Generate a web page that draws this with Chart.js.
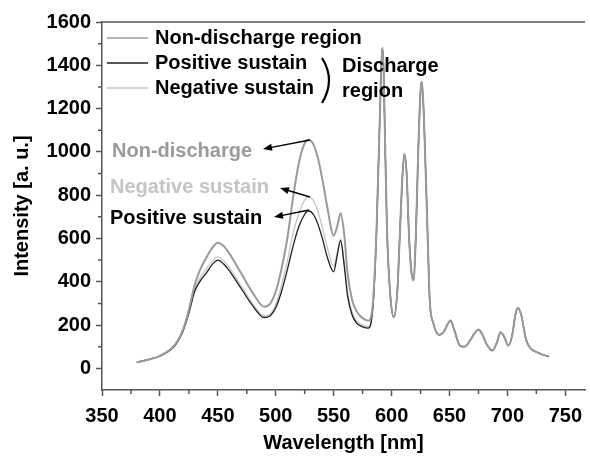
<!DOCTYPE html>
<html>
<head>
<meta charset="utf-8">
<script src="https://cdn.jsdelivr.net/npm/chart.js@4.4.0/dist/chart.umd.min.js"></script>
<style>
  html, body { margin: 0; padding: 0; background: #fff; }
  #wrap { width: 590px; height: 460px; }
</style>
</head>
<body>
<div id="wrap"><canvas id="spectrumChart"></canvas></div>
<script>
const wavelengths = [380, 390, 400, 410, 415, 420, 425, 430, 435, 440, 445, 450, 455, 460, 470, 480, 490, 495,
    500, 505, 510, 515, 520, 525, 528, 532, 536, 540, 545, 550, 553, 556, 559, 562, 566, 570, 575, 580,
    584, 587, 589, 590, 591, 592, 593, 594, 596, 599, 602, 605, 607, 609, 611, 613, 615, 617, 619, 621,
    623, 625, 626, 628, 631, 633, 636, 641, 645, 648, 651, 654, 659, 663, 668, 672, 675, 678, 682, 687,
    691, 694, 697, 701, 704, 707, 709, 712, 716, 720, 726, 731, 736];

const nonDischarge = [28, 40, 58, 92, 125, 180, 270, 385, 460, 510, 555, 580, 565, 530, 440, 350, 285, 298,
    355, 460, 600, 790, 950, 1040, 1056, 1040, 980, 880, 730, 612, 655, 716, 625, 440, 315, 262, 232, 220,
    310, 640, 1000, 1180, 1380, 1480, 1400, 1150, 650, 330, 236, 360, 600, 850, 990, 900, 620, 450, 406, 620,
    1000, 1280, 1324, 1150, 635, 310, 210, 155, 168, 200, 221, 180, 105, 100, 130, 165, 179, 160, 112, 82,
    120, 167, 148, 105, 150, 250, 280, 245, 135, 92, 74, 62, 54];

const positiveSustain = [28, 40, 57, 88, 120, 172, 255, 355, 405, 440, 478, 500, 482, 450, 370, 290, 235, 242,
    280, 355, 455, 565, 655, 712, 728, 715, 672, 605, 505, 446, 520, 590, 480, 335, 245, 208, 192, 186,
    290, 630, 1000, 1180, 1380, 1480, 1400, 1150, 650, 330, 236, 360, 600, 850, 990, 900, 620, 450, 406, 620,
    1000, 1280, 1324, 1150, 635, 310, 210, 155, 168, 200, 221, 180, 105, 100, 130, 165, 179, 160, 112, 82,
    120, 167, 148, 105, 150, 250, 280, 245, 135, 92, 74, 62, 54];

const negativeSustain = [28, 40, 58, 90, 122, 176, 262, 365, 420, 458, 493, 515, 497, 465, 382, 300, 243, 250,
    295, 385, 495, 625, 715, 778, 792, 780, 732, 655, 548, 472, 535, 598, 495, 350, 258, 218, 200, 193,
    295, 635, 1000, 1180, 1380, 1480, 1400, 1150, 650, 330, 236, 360, 600, 850, 990, 900, 620, 450, 406, 620,
    1000, 1280, 1324, 1150, 635, 310, 210, 155, 168, 200, 221, 180, 105, 100, 130, 165, 179, 160, 112, 82,
    120, 167, 148, 105, 150, 250, 280, 245, 135, 92, 74, 62, 54];

const xTicks = [350, 400, 450, 500, 550, 600, 650, 700, 750];
const xMinorTicks = [375, 425, 475, 525, 575, 625, 675, 725];
const yTicks = [0, 200, 400, 600, 800, 1000, 1200, 1400, 1600];
const yMinorTicks = [100, 300, 500, 700, 900, 1100, 1300, 1500];

const seriesNames = ['Non-discharge region', 'Positive sustain', 'Negative sustain'];
const seriesColors = ['#9a9a9a', '#1e1e1e', '#c4c4c4'];

const FONT = "'Liberation Sans', Arial, sans-serif";

function toPoints(values) {
    return wavelengths.map((w, i) => ({ x: w, y: values[i] }));
}

function arrow(ctx, x1, y1, x2, y2) {
    const ang = Math.atan2(y2 - y1, x2 - x1);
    ctx.beginPath();
    ctx.moveTo(x1, y1);
    ctx.lineTo(x2 - 6 * Math.cos(ang), y2 - 6 * Math.sin(ang));
    ctx.stroke();
    ctx.beginPath();
    ctx.moveTo(x2, y2);
    ctx.lineTo(x2 - 9 * Math.cos(ang) + 3.5 * Math.sin(ang), y2 - 9 * Math.sin(ang) - 3.5 * Math.cos(ang));
    ctx.lineTo(x2 - 9 * Math.cos(ang) - 3.5 * Math.sin(ang), y2 - 9 * Math.sin(ang) + 3.5 * Math.cos(ang));
    ctx.closePath();
    ctx.fill();
}

const decorations = {
    id: 'decorations',
    afterDraw(chart) {
        const ctx = chart.ctx;
        const area = chart.chartArea;
        const xs = chart.scales.x;
        const ys = chart.scales.y;
        ctx.save();

        // top frame line
        ctx.strokeStyle = '#555';
        ctx.lineWidth = 1.5;
        ctx.beginPath();
        ctx.moveTo(area.left, area.top);
        ctx.lineTo(area.right, area.top);
        ctx.stroke();

        // minor ticks
        ctx.beginPath();
        xMinorTicks.forEach(v => {
            const px = xs.getPixelForValue(v);
            ctx.moveTo(px, area.bottom);
            ctx.lineTo(px, area.bottom + 4);
        });
        yMinorTicks.forEach(v => {
            const py = ys.getPixelForValue(v);
            ctx.moveTo(area.left, py);
            ctx.lineTo(area.left - 4, py);
        });
        ctx.stroke();

        // legend
        ctx.font = 'bold 20px ' + FONT;
        ctx.textBaseline = 'alphabetic';
        ctx.textAlign = 'left';
        const legendY = [38, 63, 88];
        seriesNames.forEach((name, i) => {
            ctx.strokeStyle = seriesColors[i];
            ctx.lineWidth = 1.5;
            ctx.beginPath();
            ctx.moveTo(107, legendY[i]);
            ctx.lineTo(148, legendY[i]);
            ctx.stroke();
            ctx.fillStyle = '#000';
            ctx.fillText(name, 155, legendY[i] + 6);
        });

        // brace
        ctx.strokeStyle = '#000';
        ctx.lineWidth = 2.2;
        ctx.beginPath();
        ctx.moveTo(322, 58);
        ctx.quadraticCurveTo(336, 80, 322, 103);
        ctx.stroke();
        ctx.fillStyle = '#000';
        ctx.fillText('Discharge', 342, 72);
        ctx.fillText('region', 342, 97);

        // curve labels
        ctx.fillStyle = seriesColors[0];
        ctx.fillText('Non-discharge', 112, 157);
        ctx.fillStyle = seriesColors[2];
        ctx.fillText('Negative sustain', 110, 193);
        ctx.fillStyle = '#000';
        ctx.fillText('Positive sustain', 110, 224);

        ctx.strokeStyle = '#000';
        ctx.fillStyle = '#000';
        ctx.lineWidth = 1.4;
        arrow(ctx, 310, 140, 263, 149);
        arrow(ctx, 310, 197, 280, 188);
        arrow(ctx, 309, 210, 274, 217);

        ctx.restore();
    }
};

const ctx = document.getElementById('spectrumChart').getContext('2d');
new Chart(ctx, {
    type: 'line',
    data: {
        datasets: [{
            label: seriesNames[0],
            data: toPoints(nonDischarge),
            borderColor: seriesColors[0],
            borderWidth: 2
        }, {
            label: seriesNames[1],
            data: toPoints(positiveSustain),
            borderColor: seriesColors[1],
            borderWidth: 1.3
        }, {
            label: seriesNames[2],
            data: toPoints(negativeSustain),
            borderColor: seriesColors[2],
            borderWidth: 1.3
        }]
    },
    options: {
        responsive: true,
        maintainAspectRatio: false,
        animation: false,
        layout: { padding: { top: 22, left: 0, right: 0, bottom: 0 } },
        elements: {
            point: { radius: 0 },
            line: { tension: 0.4, cubicInterpolationMode: 'monotone' }
        },
        plugins: {
            legend: { display: false },
            tooltip: { enabled: false }
        },
        scales: {
            x: {
                type: 'linear',
                min: 350,
                max: 767,
                afterBuildTicks: scale => { scale.ticks = xTicks.map(v => ({ value: v })); },
                afterFit: scale => { scale.height = 70; },
                grid: { drawOnChartArea: false, drawTicks: true, tickLength: 6, tickWidth: 1.5, tickColor: '#555' },
                border: { display: true, color: '#555', width: 1.5 },
                ticks: {
                    color: '#000', padding: 8, maxRotation: 0,
                    callback: v => String(v),
                    font: { family: FONT, size: 20, weight: 'bold' }
                },
                title: {
                    display: true,
                    text: 'Wavelength [nm]',
                    color: '#000',
                    padding: { top: 0, bottom: 5 },
                    font: { family: FONT, size: 20, weight: 'bold' }
                }
            },
            y: {
                min: -100,
                max: 1600,
                afterBuildTicks: scale => { scale.ticks = yTicks.map(v => ({ value: v })); },
                afterFit: scale => { scale.width = 102; },
                grid: { drawOnChartArea: false, drawTicks: true, tickLength: 6, tickWidth: 1.5, tickColor: '#555' },
                border: { display: true, color: '#555', width: 1.5 },
                ticks: {
                    color: '#000', padding: 5,
                    callback: v => String(v),
                    font: { family: FONT, size: 20, weight: 'bold' }
                },
                title: {
                    display: true,
                    text: 'Intensity [a. u.]',
                    color: '#000',
                    padding: { top: 10, bottom: 0 },
                    font: { family: FONT, size: 20, weight: 'bold' }
                }
            }
        }
    },
    plugins: [decorations]
});
</script>
</body>
</html>
